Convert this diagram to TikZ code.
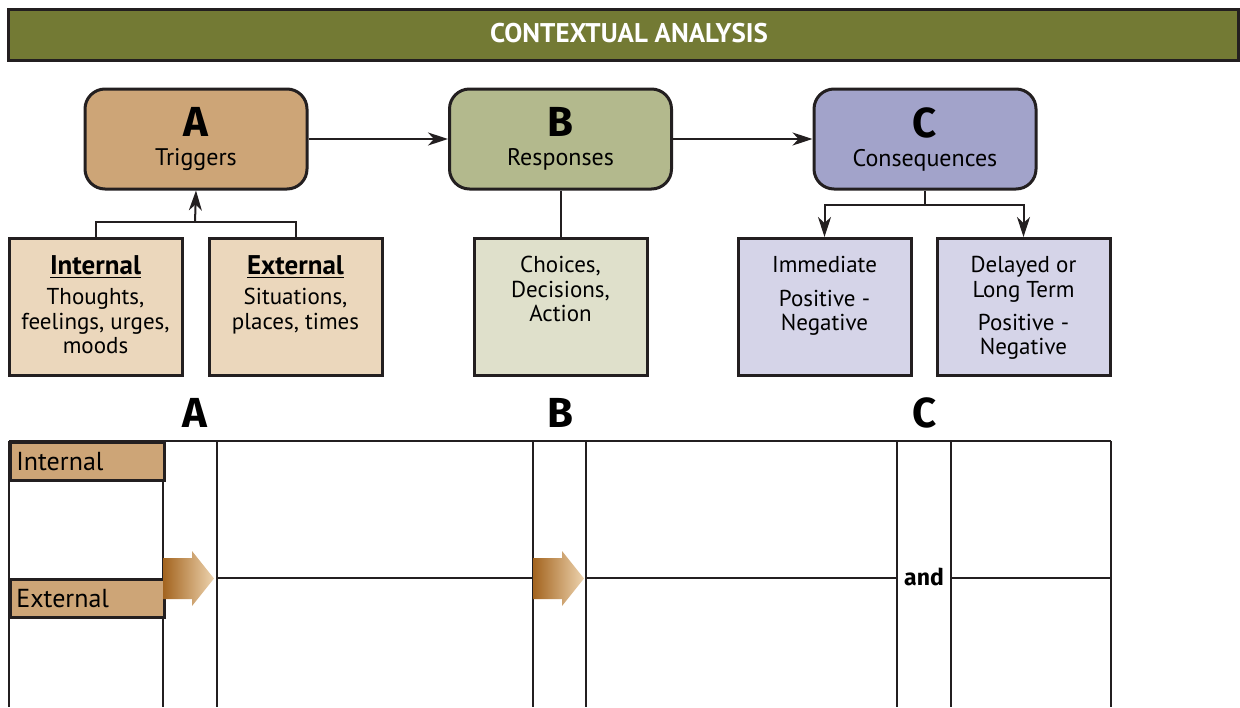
\documentclass[tikz,border=0pt]{standalone}
\usepackage{fontspec}
\setmainfont{PT Sans}
\newfontfamily\heavyfont{Fira Sans}
\usepackage{xcolor}
\usetikzlibrary{arrows.meta}

\definecolor{barolive}{HTML}{737A34}
\definecolor{inkline}{HTML}{231F20}
\definecolor{trigtan}{HTML}{CDA577}
\definecolor{trigpale}{HTML}{EBD7BC}
\definecolor{respsage}{HTML}{B3B98D}
\definecolor{resppale}{HTML}{DFE0CB}
\definecolor{conslav}{HTML}{A2A3CA}
\definecolor{conspale}{HTML}{D5D4E8}
\definecolor{arrowdark}{HTML}{A3641F}
\definecolor{arrowpale}{HTML}{EDD3AE}

\newcommand{\bigletter}[1]{{\heavyfont\bfseries\fontsize{21}{21}\selectfont #1}}
\newcommand{\boxhead}[1]{{\fontsize{13.5}{14}\selectfont\underline{\textbf{#1}}}}

\begin{document}
\begin{tikzpicture}[x=0.5pt, y=-0.5pt,
        phase/.style={draw=inkline, line width=1.5pt, rounded corners=10pt,
            minimum width=111pt, minimum height=50pt, align=center,
            font=\fontsize{12}{14.5}\selectfont},
        detail/.style={draw=inkline, line width=1.5pt, anchor=north,
            minimum width=86.5pt, minimum height=68.5pt},
        detailtext/.style={anchor=north, inner sep=0pt, align=center,
            font=\fontsize{11.5}{12.2}\selectfont},
        link/.style={draw=inkline, line width=1pt},
        tip/.style={-{Stealth[length=10pt, width=6.5pt, inset=3pt]}},
        letter/.style={inner sep=0pt, font=\heavyfont\bfseries\fontsize{21}{21}\selectfont},
        grid/.style={draw=inkline, line width=1.2pt},
        rowlabel/.style={draw=inkline, line width=1.4pt, fill=trigtan,
            anchor=north west, minimum width=77pt, minimum height=19pt,
            text width=71pt, inner xsep=3pt, align=left,
            font=\fontsize{13}{13}\selectfont}]
        \useasboundingbox (0,0) rectangle (1240,707);

        % title bar
        \node[draw=inkline, line width=1.5pt, fill=barolive,
            minimum width=615pt, minimum height=25.5pt] (title) at (623,34.5) {};
        \node[text=white, font=\bfseries\fontsize{13.5}{13.5}\selectfont] (title-t) at (629,33) {CONTEXTUAL ANALYSIS};

        % A B C
        \node[phase, fill=trigtan] (trig) at (196,139) {\bigletter{A}\\Triggers};
        \node[phase, fill=respsage] (resp) at (560.5,139) {\bigletter{B}\\Responses};
        \node[phase, fill=conslav] (cons) at (925,139) {\bigletter{C}\\Consequences};
        \draw[link, tip] (trig) -- (resp);
        \draw[link, tip] (resp) -- (cons);

        % triggers
        \node[detail, fill=trigpale] (int) at (95.5,237) {};
        \node[detail, fill=trigpale] (ext) at (295.5,237) {};
        \node[detailtext] (int-t) at ([yshift=-9pt]int.north)
            {\boxhead{Internal}\\[3pt]Thoughts,\\feelings, urges,\\moods};
        \node[detailtext] (ext-t) at ([yshift=-9pt]ext.north)
            {\boxhead{External}\\[3pt]Situations,\\places, times};
        \coordinate (trig-j) at (195,222);
        \draw[link] (int.north) |- (trig-j) -| (ext.north);
        \draw[link, tip] (trig-j) -- (trig.south);

        % responses
        \node[detail, fill=resppale] (act) at (560.5,237) {};
        \node[detailtext] (act-t) at ([yshift=-9.5pt]act.north) {Choices,\\Decisions,\\Action};
        \draw[link] (resp.south) -- (act.north);

        % consequences
        \node[detail, fill=conspale] (imm) at (824.5,237) {};
        \node[detail, fill=conspale] (del) at (1023.5,237) {};
        \node[detailtext] (imm-t) at ([yshift=-9.5pt]imm.north)
            {Immediate\\[4.5pt]Positive -\\Negative};
        \node[detailtext] (del-t) at ([yshift=-9.5pt]del.north)
            {Delayed or\\Long Term\\[4.5pt]Positive -\\Negative};
        \coordinate (cons-j) at (925,205);
        \draw[link] (cons.south) -- (cons-j);
        \draw[link, tip] (cons-j) -| (imm.north);
        \draw[link, tip] (cons-j) -| (del.north);

        % worksheet
        \node[letter] (col-a) at (195,413) {A};
        \node[letter] (col-b) at (560,413) {B};
        \node[letter] (col-c) at (925,413) {C};
        \draw[grid] (9,441) -- (1111,441);
        \foreach \gx in {9,163,217,533,586,897,951,1111}
            \draw[grid] (\gx,441) -- (\gx,707);
        \draw[grid] (217,578) -- (533,578);
        \draw[grid] (586,578) -- (897,578);
        \draw[grid] (951,578) -- (1111,578);
        \node[rowlabel] (row-int) at (9,441) {Internal};
        \node[rowlabel] (row-ext) at (9,578) {External};
        \foreach \ax in {163,533}
            \shade[left color=arrowdark, right color=arrowpale]
                (\ax,558) -- (\ax+29,558) -- (\ax+29,551) -- (\ax+51,578.5)
                -- (\ax+29,606) -- (\ax+29,599) -- (\ax,599) -- cycle;
        \node[inner sep=0pt, font=\heavyfont\bfseries\fontsize{11.5}{11.5}\selectfont] (and) at (924,577) {and};
    \end{tikzpicture}
\end{document}
